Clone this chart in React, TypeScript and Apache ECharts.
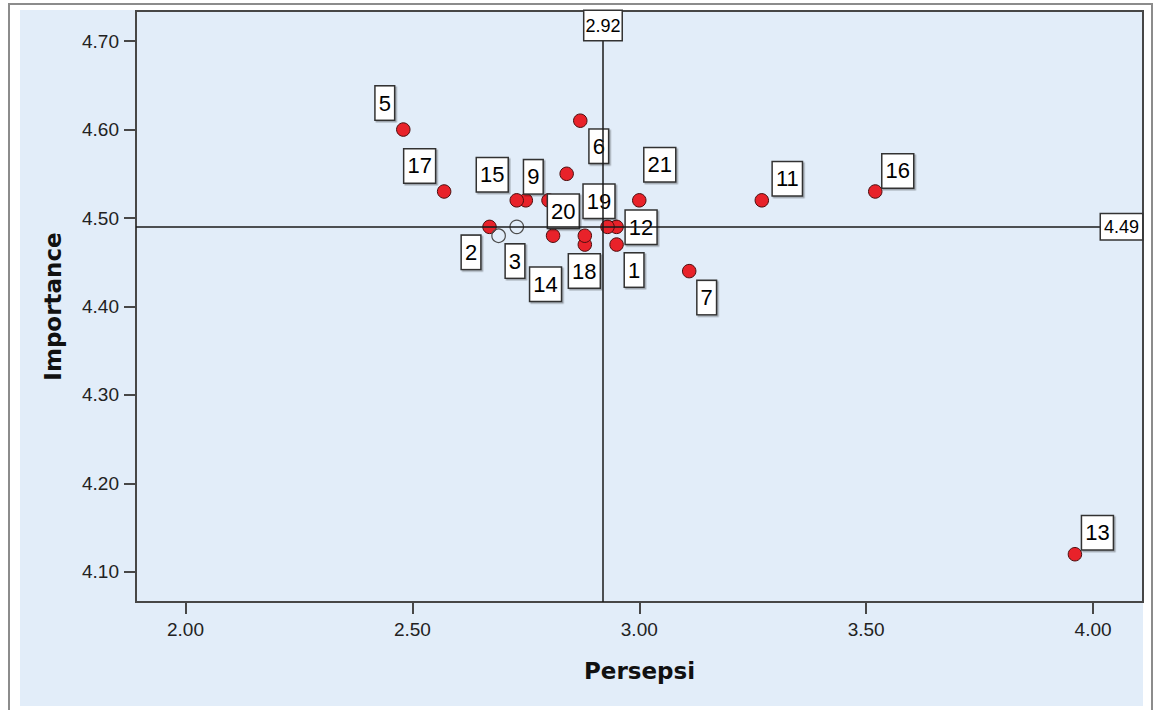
import React, { useEffect, useRef } from "react";
import * as echarts from "echarts";

// ---- data ----
const pointIds = [1, 2, 3, 4, 5, 6, 7, 8, 9, 10, 11, 12, 13, 14, 15, 16, 17, 18, 19, 20, 21];
const persepsi = [2.95, 2.67, 2.69, 2.73, 2.48, 2.87, 3.11, 2.8, 2.75, 2.84, 3.27, 2.95, 3.96, 2.81, 2.73, 3.52, 2.57, 2.88, 2.93, 2.88, 3.0];
const importance = [4.47, 4.49, 4.48, 4.49, 4.6, 4.61, 4.44, 4.52, 4.52, 4.55, 4.52, 4.49, 4.12, 4.48, 4.52, 4.53, 4.53, 4.47, 4.49, 4.48, 4.52];
const hollowIds = [3, 4];
const unlabeledIds = [4, 8, 10];
const xTicks = [2.0, 2.5, 3.0, 3.5, 4.0];
const yTicks = [4.1, 4.2, 4.3, 4.4, 4.5, 4.6, 4.7];
const meanPersepsi = 2.92;
const meanImportance = 4.49;
const xTitle = "Persepsi";
const yTitle = "Importance";

// ---- layout (label box offsets from each point, px) ----
const LABEL_OFFSET: Record<number, [number, number]> = {
  1: [18, 26],
  2: [-18, 26],
  3: [17, 26],
  5: [-18, -26],
  6: [19, 26],
  7: [18, 27],
  9: [8, -23],
  11: [26, -21],
  12: [25, 1],
  13: [23, -21],
  14: [-7, 49],
  15: [-24, -25],
  16: [23, -20],
  17: [-24, -25],
  18: [0, 27],
  19: [-8, -25],
  20: [-21, -24],
  21: [21, -35],
};

const SYMBOL_SIZE = 13.5;
const BLUE = "#E2EDF9";
const AXIS = "#474747";

export default function App() {
  const ref = useRef<HTMLDivElement>(null);

  useEffect(() => {
    if (!ref.current) return;
    const chart = echarts.init(ref.current, null, { renderer: "svg" });

    const boxLabel = {
      show: true,
      align: "center",
      verticalAlign: "middle",
      fontFamily: "Liberation Sans",
      fontSize: 22,
      lineHeight: 22,
      color: "#000000",
      backgroundColor: "#ffffff",
      borderColor: "#333333",
      borderWidth: 1.5,
      padding: [6, 3, 5, 3],
      shadowColor: "rgba(0,0,0,0.3)",
      shadowOffsetX: 1.5,
      shadowOffsetY: 1.5,
      shadowBlur: 0,
      textShadowColor: "transparent",
      textShadowBlur: 0,
      formatter: (p: any) => String(p.data.id),
    };

    const half = SYMBOL_SIZE / 2;
    const data = pointIds.map((id, i) => {
      const hollow = hollowIds.includes(id);
      const labeled = !unlabeledIds.includes(id);
      const off = LABEL_OFFSET[id] || [0, 0];
      return {
        id,
        value: [persepsi[i], importance[i]],
        itemStyle: hollow
          ? { color: "rgba(0,0,0,0)", borderColor: "#4d4d4d", borderWidth: 1.2, opacity: 1 }
          : { color: "#E8222A", borderColor: "#4a0e0e", borderWidth: 1, opacity: 1 },
        label: labeled
          ? { ...boxLabel, position: [half + off[0], half + off[1]] }
          : { show: false },
      };
    });

    const refLabel = {
      show: true,
      position: "end",
      fontFamily: "Liberation Sans",
      fontSize: 18,
      lineHeight: 18,
      color: "#000",
      backgroundColor: "#ffffff",
      borderColor: "#333",
      borderWidth: 1.5,
    };

    chart.setOption({
      animation: false,
      backgroundColor: "#ffffff",
      graphic: [
        {
          type: "rect",
          z: -100,
          silent: true,
          shape: { x: 9, y: 4, width: 1143, height: 720 },
          style: { fill: "#ffffff", stroke: "#8c8c8c", lineWidth: 2 },
        },
        {
          type: "rect",
          z: -99,
          silent: true,
          shape: { x: 20, y: 10, width: 1123, height: 696 },
          style: { fill: BLUE },
        },
      ],
      grid: {
        left: 136,
        top: 11,
        right: 14,
        bottom: 108,
        show: true,
        backgroundColor: BLUE,
        borderColor: AXIS,
        borderWidth: 2,
      },
      xAxis: {
        type: "value",
        min: 1.891,
        max: 4.11,
        name: xTitle,
        nameLocation: "middle",
        nameGap: 57,
        nameTextStyle: {
          fontFamily: "DejaVu Sans",
          fontWeight: "bold",
          fontSize: 23,
          color: "#111",
        },
        axisLine: { show: true, lineStyle: { color: AXIS, width: 2 } },
        axisTick: { show: true, customValues: xTicks, length: 12, lineStyle: { color: AXIS, width: 2 } },
        axisLabel: {
          customValues: xTicks,
          margin: 18,
          fontFamily: "Liberation Sans",
          fontSize: 19,
          color: "#222",
          formatter: (v: number) => v.toFixed(2),
        },
        splitLine: { show: false },
      },
      yAxis: {
        type: "value",
        min: 4.066,
        max: 4.734,
        name: yTitle,
        nameLocation: "middle",
        nameGap: 72,
        nameTextStyle: {
          fontFamily: "DejaVu Sans",
          fontWeight: "bold",
          fontSize: 23,
          color: "#111",
        },
        axisLine: { show: true, lineStyle: { color: AXIS, width: 2 } },
        axisTick: { show: true, customValues: yTicks, length: 12, lineStyle: { color: AXIS, width: 2 } },
        axisLabel: {
          customValues: yTicks,
          margin: 17,
          fontFamily: "Liberation Sans",
          fontSize: 19,
          color: "#222",
          formatter: (v: number) => v.toFixed(2),
        },
        splitLine: { show: false },
      },
      series: [
        {
          type: "scatter",
          symbol: "circle",
          symbolSize: SYMBOL_SIZE,
          data,
          labelLayout: { hideOverlap: false },
          markLine: {
            silent: true,
            symbol: ["none", "none"],
            lineStyle: { color: "#1a1a1a", width: 1.5, type: "solid", opacity: 1 },
            data: [
              {
                xAxis: meanPersepsi,
                label: {
                  ...refLabel,
                  distance: -29,
                  padding: [6, 1, 5, 1],
                  formatter: () => meanPersepsi.toFixed(2),
                },
              },
              {
                yAxis: meanImportance,
                label: {
                  ...refLabel,
                  distance: -42,
                  padding: [4, 3, 3, 3],
                  formatter: () => meanImportance.toFixed(2),
                },
              },
            ],
          },
        },
      ],
    });

    return () => chart.dispose();
  }, []);

  return (
    <div
      ref={ref}
      style={{ position: "absolute", left: 0, top: 0, width: 1157, height: 710 }}
    />
  );
}
